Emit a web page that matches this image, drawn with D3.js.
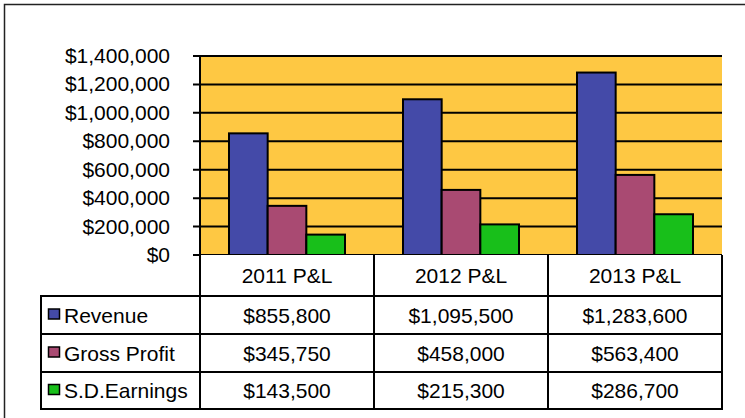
<!DOCTYPE html>
<html>
<head>
<meta charset="utf-8">
<script src="https://cdn.jsdelivr.net/npm/d3@7"></script>
<style>
  body { margin: 0; background: #fff; }
  text { font-family: "Liberation Sans", Arial, sans-serif; fill: #000; }
</style>
</head>
<body>
<div id="chart"></div>
<script>
// data
const categories = ["2011 P&L", "2012 P&L", "2013 P&L"];
const seriesNames = ["Revenue", "Gross Profit", "S.D.Earnings"];
const revenue = [855800, 1095500, 1283600];
const grossProfit = [345750, 458000, 563400];
const sdEarnings = [143500, 215300, 286700];
const yTicks = [0, 200000, 400000, 600000, 800000, 1000000, 1200000, 1400000];

const seriesValues = [revenue, grossProfit, sdEarnings];
const colors = ["#444aa8", "#a94a72", "#18bf1a"];

const width = 745, height = 418;
const plot = { left: 200, right: 722, top: 56, bottom: 255 };
const rowH = [41, 38, 38, 37]; // header row + 3 data rows
const legendLeft = 41;
const fontSize = "21px";

const svg = d3.select("#chart")
  .append("svg")
  .attr("width", width)
  .attr("height", height);

// outer frame (runs off the right/bottom edge like the original)
svg.append("rect")
  .attr("x", 4.5).attr("y", 4.5)
  .attr("width", 760).attr("height", 430)
  .attr("fill", "#fff")
  .attr("stroke", "#222")
  .attr("stroke-width", 1.5);

const x0 = d3.scaleBand()
  .domain(categories)
  .range([plot.left, plot.right]);

const x1 = d3.scaleBand()
  .domain(seriesNames)
  .range([0, x0.bandwidth()])
  .paddingInner(0)
  .paddingOuter(0.75);

const y = d3.scaleLinear()
  .domain([0, 1400000])
  .range([plot.bottom, plot.top]);

// plot background
svg.append("rect")
  .attr("x", plot.left).attr("y", plot.top)
  .attr("width", plot.right - plot.left)
  .attr("height", plot.bottom - plot.top)
  .attr("fill", "#fec843");

// gridlines
svg.append("g")
  .selectAll("line")
  .data(yTicks)
  .enter()
  .append("line")
    .attr("x1", plot.left - 7)
    .attr("x2", plot.right)
    .attr("y1", d => y(d))
    .attr("y2", d => y(d))
    .attr("stroke", "#000")
    .attr("stroke-width", 2);

// y axis line
svg.append("line")
  .attr("x1", plot.left).attr("x2", plot.left)
  .attr("y1", plot.top - 1).attr("y2", plot.bottom)
  .attr("stroke", "#000")
  .attr("stroke-width", 2);

// y labels
svg.append("g")
  .selectAll("text")
  .data(yTicks)
  .enter()
  .append("text")
    .attr("x", 170)
    .attr("y", d => y(d) + 7)
    .attr("text-anchor", "end")
    .style("font-size", fontSize)
    .text(d => d3.format("$,")(d));

// bars
const groups = svg.append("g")
  .selectAll("g")
  .data(categories)
  .enter()
  .append("g")
    .attr("transform", d => "translate(" + x0(d) + ",0)");

groups.selectAll("rect")
  .data((c, i) => seriesNames.map((s, j) => ({ s: s, v: seriesValues[j][i], color: colors[j] })))
  .enter()
  .append("rect")
    .attr("x", d => x1(d.s))
    .attr("y", d => y(d.v))
    .attr("width", x1.bandwidth())
    .attr("height", d => y(0) - y(d.v))
    .attr("fill", d => d.color)
    .attr("stroke", "#000")
    .attr("stroke-width", 2);

// data table
const rowY = [plot.bottom];
rowH.forEach(h => rowY.push(rowY[rowY.length - 1] + h));
const table = svg.append("g");

table.append("rect")
  .attr("x", plot.left).attr("y", rowY[0])
  .attr("width", plot.right - plot.left)
  .attr("height", rowY[4] - rowY[0])
  .attr("fill", "#fff");
table.append("rect")
  .attr("x", legendLeft).attr("y", rowY[1])
  .attr("width", plot.left - legendLeft)
  .attr("height", rowY[4] - rowY[1])
  .attr("fill", "#fff");

// horizontal lines
rowY.forEach((yy, i) => {
  if (i === 0) return;
  table.append("line")
    .attr("x1", legendLeft - 1)
    .attr("x2", plot.right + 1)
    .attr("y1", yy).attr("y2", yy)
    .attr("stroke", "#000").attr("stroke-width", 2);
});
// vertical lines
const vx = [plot.left].concat(categories.map(c => x0(c) + x0.bandwidth()));
vx.forEach(xx => {
  table.append("line")
    .attr("x1", xx).attr("x2", xx)
    .attr("y1", rowY[0]).attr("y2", rowY[4] + 1)
    .attr("stroke", "#000").attr("stroke-width", 2);
});
table.append("line")
  .attr("x1", legendLeft).attr("x2", legendLeft)
  .attr("y1", rowY[1] - 1).attr("y2", rowY[4] + 1)
  .attr("stroke", "#000").attr("stroke-width", 2);

// header labels
table.selectAll(".cat")
  .data(categories)
  .enter()
  .append("text")
    .attr("x", d => x0(d) + x0.bandwidth() / 2)
    .attr("y", (rowY[0] + rowY[1]) / 2 + 7.5)
    .attr("text-anchor", "middle")
    .style("font-size", fontSize)
    .text(d => d);

// legend keys + names
seriesNames.forEach((s, j) => {
  const cy = (rowY[j + 1] + rowY[j + 2]) / 2;
  table.append("rect")
    .attr("x", 48.5).attr("y", cy - 6)
    .attr("width", 11).attr("height", 10)
    .attr("fill", colors[j])
    .attr("stroke", "#000")
    .attr("stroke-width", 1.5);
  table.append("text")
    .attr("x", 64)
    .attr("y", cy + 7.5)
    .style("font-size", fontSize)
    .text(s);
  categories.forEach((c, i) => {
    table.append("text")
      .attr("x", x0(c) + x0.bandwidth() / 2)
      .attr("y", cy + 7.5)
      .attr("text-anchor", "middle")
      .style("font-size", fontSize)
      .text(d3.format("$,")(seriesValues[j][i]));
  });
});
</script>
</body>
</html>
